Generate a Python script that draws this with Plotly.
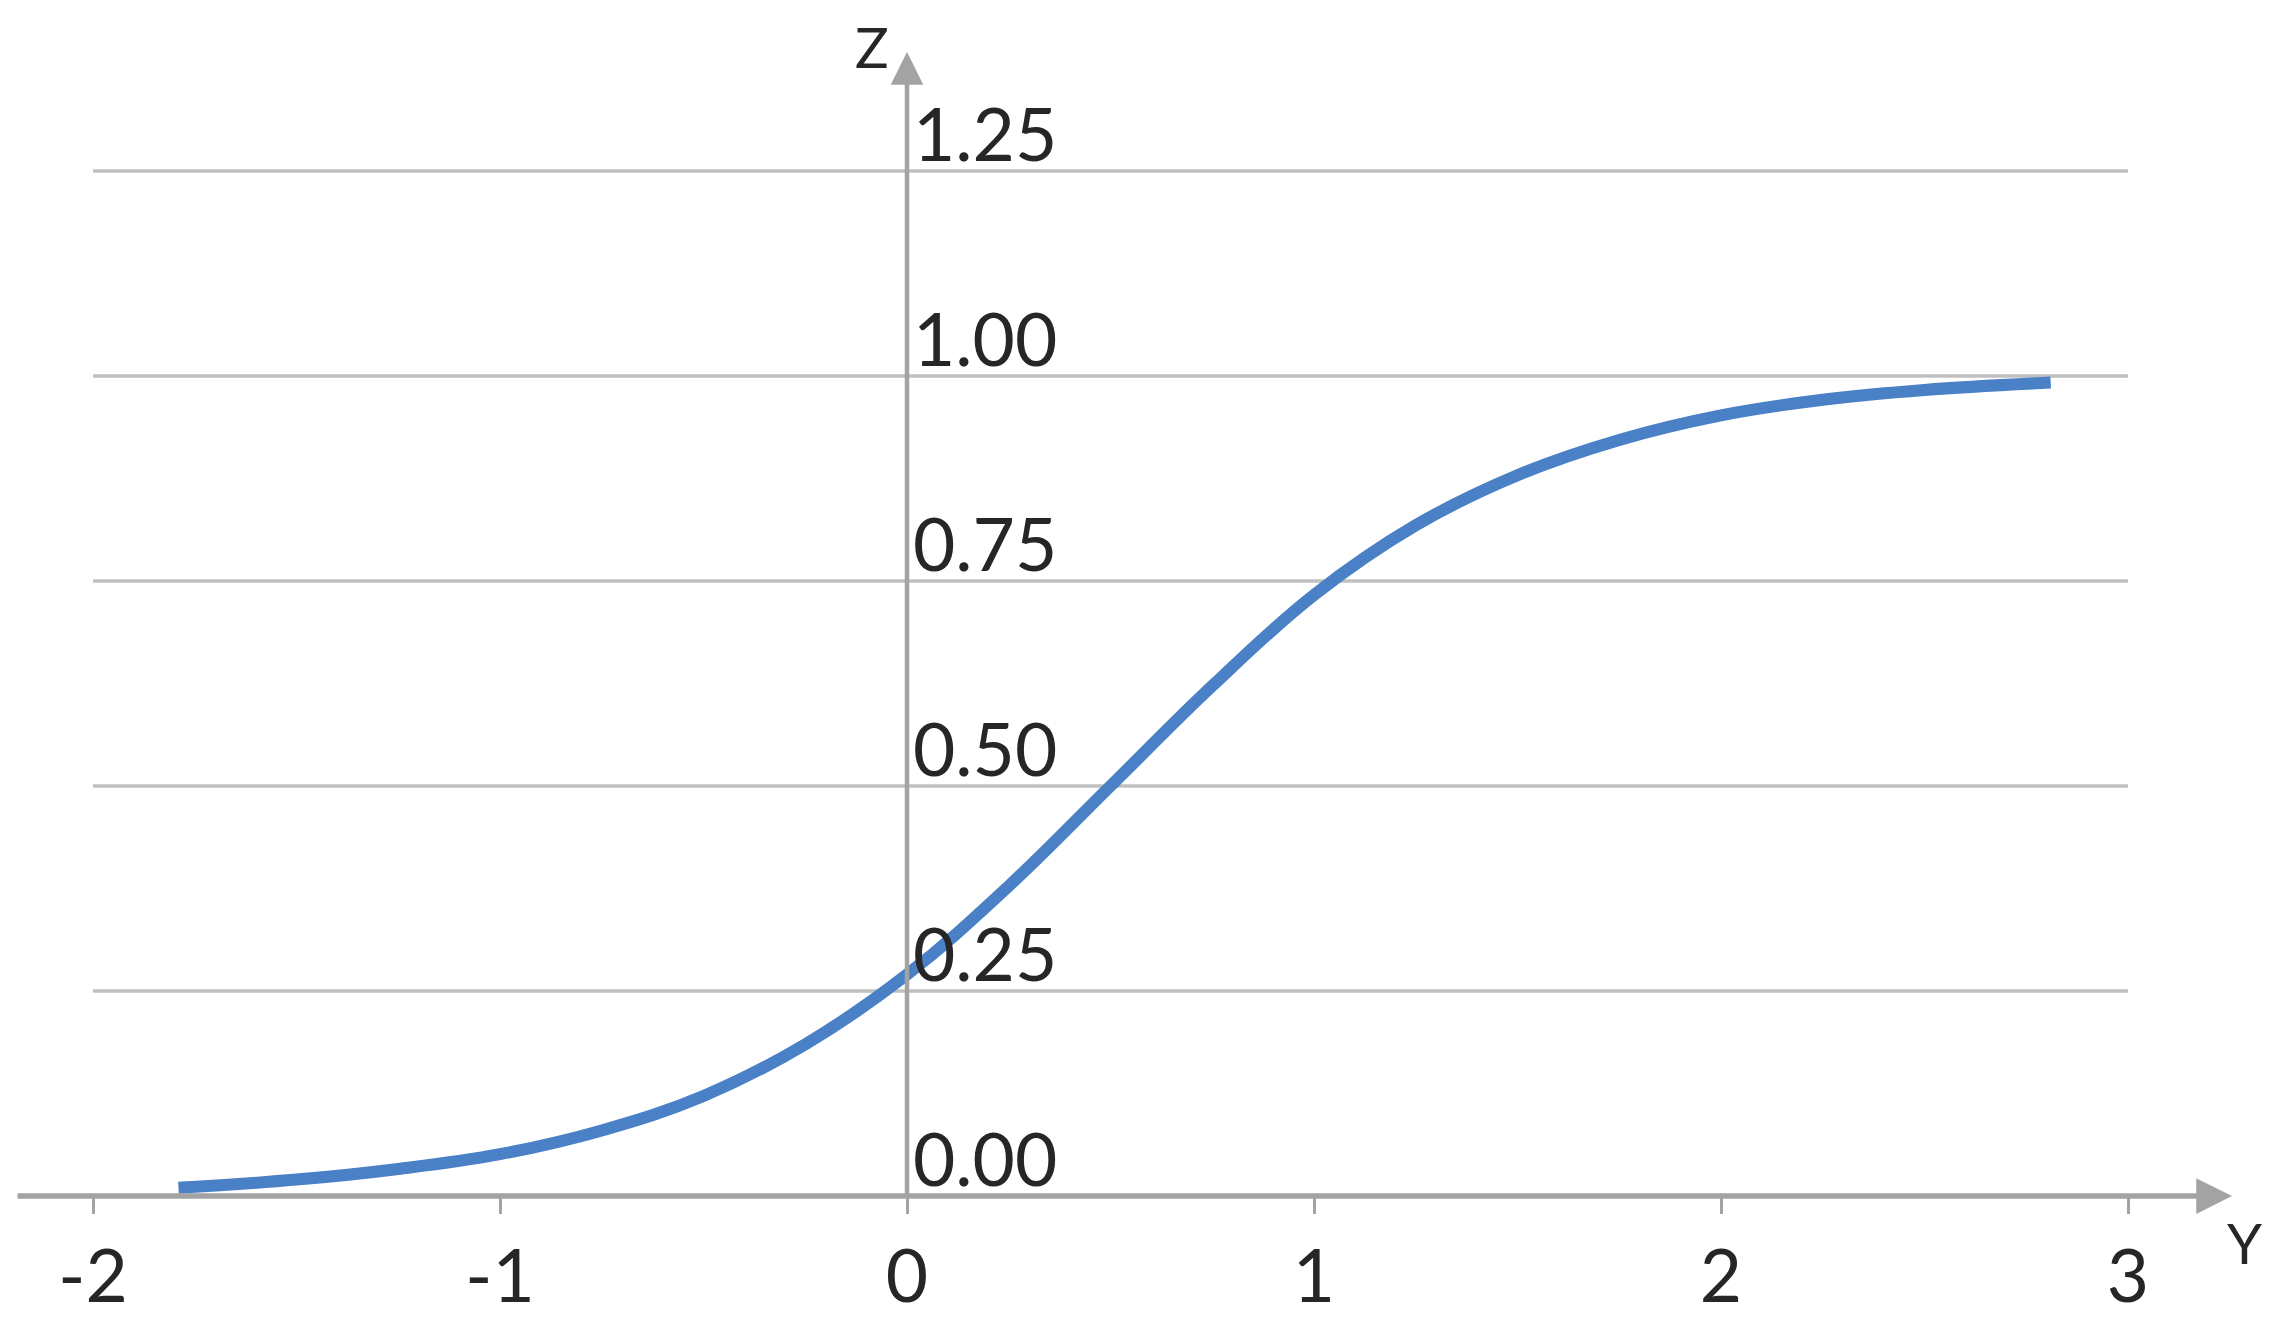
import plotly.graph_objects as go

# ---- data ----
Y_VALS = [-1.79, -1.5, -1.25, -1.0, -0.75, -0.5, -0.25, 0.0, 0.25, 0.5, 0.75, 1.0, 1.25, 1.5, 1.75, 2.0, 2.25, 2.5, 2.81]
Z_VALS = [0.010, 0.020, 0.033, 0.051, 0.080, 0.122, 0.185, 0.27, 0.378, 0.50, 0.622, 0.733, 0.818, 0.879, 0.922, 0.952, 0.971, 0.983, 0.992]

X_TICKS = [-2, -1, 0, 1, 2, 3]
X_TICK_TEXT = ["-2", "-1", "0", "1", "2", "3"]
Z_TICKS = [0.0, 0.25, 0.5, 0.75, 1.0, 1.25]
Z_TICK_TEXT = ["0.00", "0.25", "0.50", "0.75", "1.00", "1.25"]
GRID_LEVELS = [0.25, 0.5, 0.75, 1.0, 1.25]

W, H = 2280, 1331
OFF = 8            # page margin of the html body
PX_PER_X = 407.0
PX_PER_Z = 820.0
X0_PX = 907.0 - OFF     # figure pixel column of Y=0
Z0_PX = 1196.0 - OFF    # figure pixel row of Z=0

x_lo = -X0_PX / PX_PER_X
x_hi = x_lo + W / PX_PER_X
z_hi = Z0_PX / PX_PER_Z
z_lo = z_hi - H / PX_PER_Z


def dx(px):
    return (px - OFF - X0_PX) / PX_PER_X


def dz(py):
    return (Z0_PX - (py - OFF)) / PX_PER_Z


AXIS_COLOR = "#a3a3a3"
GRID_COLOR = "#c0c0c0"
TEXT_COLOR = "#262626"
LINE_COLOR = "#4a80c6"
FONT = "Lato"

fig = go.Figure()

fig.add_trace(go.Scatter(
    x=Y_VALS, y=Z_VALS, mode="lines",
    line=dict(color=LINE_COLOR, width=12, shape="spline", smoothing=1.1),
    hoverinfo="skip", showlegend=False,
))

shapes = []
for g in GRID_LEVELS:
    shapes.append(dict(type="line", xref="x", yref="y", x0=X_TICKS[0], x1=X_TICKS[-1],
                       y0=g, y1=g, line=dict(color=GRID_COLOR, width=3.5), layer="below"))

annotations = []
# x axis with arrow
annotations.append(dict(x=dx(2232), y=0, xref="x", yref="y",
                        ax=dx(16), ay=0, axref="x", ayref="y",
                        text="", showarrow=True, arrowhead=2, arrowsize=1.3,
                        arrowwidth=5.5, arrowcolor=AXIS_COLOR, standoff=0, startstandoff=0))
# z axis with arrow
annotations.append(dict(x=0, y=dz(52), xref="x", yref="y",
                        ax=0, ay=0, axref="x", ayref="y",
                        text="", showarrow=True, arrowhead=2, arrowsize=1.45,
                        arrowwidth=4.5, arrowcolor=AXIS_COLOR, standoff=0, startstandoff=0))
# axis names
annotations.append(dict(x=dx(872), y=dz(46), xref="x", yref="y",
                        text="Z", showarrow=False, font=dict(family=FONT, size=56, color=TEXT_COLOR),
                        xanchor="center", yanchor="middle"))
annotations.append(dict(x=dx(2244), y=dz(1242), xref="x", yref="y",
                        text="Y", showarrow=False, font=dict(family=FONT, size=56, color=TEXT_COLOR),
                        xanchor="center", yanchor="middle"))

fig.update_layout(
    width=W, height=H,
    margin=dict(l=0, r=0, t=0, b=0),
    paper_bgcolor="white", plot_bgcolor="white",
    showlegend=False,
    shapes=shapes, annotations=annotations,
    xaxis=dict(range=[x_lo, x_hi], anchor="free", position=(H - Z0_PX) / H, side="bottom",
               tickmode="array", tickvals=X_TICKS, ticktext=X_TICK_TEXT,
               ticks="outside", ticklen=17, tickwidth=3, tickcolor=AXIS_COLOR,
               showgrid=False, zeroline=False, showline=False,
               ticklabelstandoff=0,
               tickfont=dict(family=FONT, size=73, color=TEXT_COLOR)),
    yaxis=dict(range=[z_lo, z_hi], anchor="free", position=X0_PX / W, side="right",
               tickmode="array", tickvals=Z_TICKS, ticktext=Z_TICK_TEXT,
               ticks="", showgrid=False, zeroline=False, showline=False,
               ticklabelshift=-36, ticklabelstandoff=5,
               tickfont=dict(family=FONT, size=73, color=TEXT_COLOR)),
)

fig.write_html("out.html")
